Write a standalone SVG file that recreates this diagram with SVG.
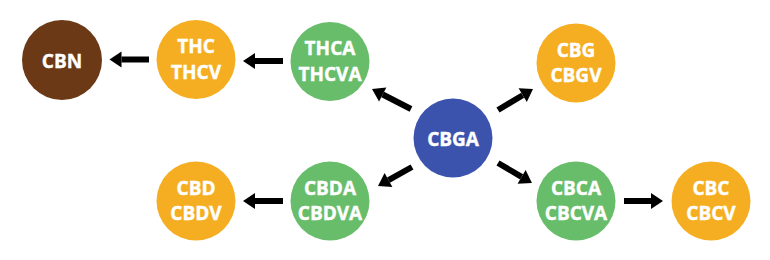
<svg xmlns="http://www.w3.org/2000/svg" width="770" height="260" viewBox="0 0 770 260">
<defs>
<style>
.t{font-family:"Open Sans","Liberation Sans",Arial,sans-serif;font-weight:bold;font-size:19px;fill:#fff;stroke:#fff;stroke-width:0.4;text-anchor:middle}
.brown{fill:#6b3916}.yellow{fill:#f5ae22}.green{fill:#68bd6a}.blue{fill:#3c53ae}
.c line{stroke:#000;stroke-width:6;marker-end:url(#ah)}
</style>
<marker id="ah" markerUnits="userSpaceOnUse" markerWidth="12" markerHeight="16" refX="0" refY="8" orient="auto" overflow="visible">
<path d="M0,0 L12,8 L0,16 z" fill="#000"/>
</marker>
</defs>
<rect width="770" height="260" fill="#fff"/>
<g id="connectors" class="c">
<line x1="149" y1="59.5" x2="121.5" y2="59.5"/>
<line x1="283" y1="61" x2="255" y2="61"/>
<line x1="283" y1="201" x2="255" y2="201"/>
<line x1="624" y1="201" x2="651" y2="201"/>
<line x1="411" y1="109" x2="382.7" y2="94.5"/>
<line x1="498" y1="110" x2="522.7" y2="95.2"/>
<line x1="498" y1="163" x2="521.6" y2="176.9"/>
<line x1="412" y1="167" x2="388.5" y2="180.1"/>
</g>
<g id="CBN"><circle class="brown" cx="62" cy="60" r="40"/><text class="t" x="62" y="68">CBN</text></g>
<g id="THC"><circle class="yellow" cx="196" cy="59.5" r="39.5"/><text class="t" x="196" y="53">THC</text><text class="t" x="196" y="78.5">THCV</text></g>
<g id="THCA"><circle class="green" cx="330" cy="61.5" r="39.5"/><text class="t" x="330" y="55">THCA</text><text class="t" x="330" y="80.5">THCVA</text></g>
<g id="CBGA"><circle class="blue" cx="453" cy="138" r="39.5"/><text class="t" x="453" y="146">CBGA</text></g>
<g id="CBG"><circle class="yellow" cx="576" cy="63" r="39.5"/><text class="t" x="576" y="56.5">CBG</text><text class="t" x="576" y="82">CBGV</text></g>
<g id="CBD"><circle class="yellow" cx="196" cy="201" r="39.5"/><text class="t" x="196" y="194.5">CBD</text><text class="t" x="196" y="220">CBDV</text></g>
<g id="CBDA"><circle class="green" cx="330" cy="201" r="39.5"/><text class="t" x="330" y="194.5">CBDA</text><text class="t" x="330" y="220">CBDVA</text></g>
<g id="CBCA"><circle class="green" cx="576" cy="201" r="39.5"/><text class="t" x="576" y="194.5">CBCA</text><text class="t" x="576" y="220">CBCVA</text></g>
<g id="CBC"><circle class="yellow" cx="711" cy="201" r="39.5"/><text class="t" x="711" y="194.5">CBC</text><text class="t" x="711" y="220">CBCV</text></g>
</svg>
